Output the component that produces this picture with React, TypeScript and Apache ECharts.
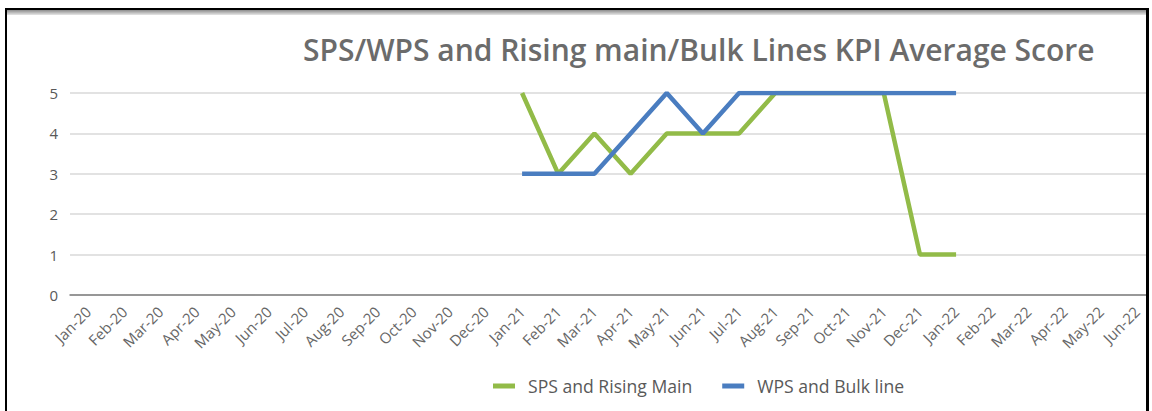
import React, { useEffect, useRef } from "react";
import * as echarts from "echarts";

const categories = [
  "Jan-20", "Feb-20", "Mar-20", "Apr-20", "May-20", "Jun-20", "Jul-20", "Aug-20", "Sep-20", "Oct-20", "Nov-20", "Dec-20",
  "Jan-21", "Feb-21", "Mar-21", "Apr-21", "May-21", "Jun-21", "Jul-21", "Aug-21", "Sep-21", "Oct-21", "Nov-21", "Dec-21",
  "Jan-22", "Feb-22", "Mar-22", "Apr-22", "May-22", "Jun-22",
];

const spsRisingMain = [
  null, null, null, null, null, null, null, null, null, null, null, null,
  5, 3, 4, 3, 4, 4, 4, 5, 5, 5, 5, 1,
  1, null, null, null, null, null,
];

const wpsBulkLine = [
  null, null, null, null, null, null, null, null, null, null, null, null,
  3, 3, 3, 4, 5, 4, 5, 5, 5, 5, 5, 5,
  5, null, null, null, null, null,
];

const yTicks = [0, 1, 2, 3, 4, 5];

const TITLE = "SPS/WPS and Rising main/Bulk Lines KPI Average Score";
const FONT = "'Open Sans', 'Noto Sans', sans-serif";

export default function App() {
  const ref = useRef<HTMLDivElement>(null);

  useEffect(() => {
    if (!ref.current) return;
    const chart = echarts.init(ref.current, null, { renderer: "svg" });
    chart.setOption({
      animation: false,
      backgroundColor: "#ffffff",
      textStyle: { fontFamily: FONT },
      title: {
        text: TITLE,
        left: 298,
        top: 29,
        textStyle: {
          fontFamily: FONT,
          fontSize: 30,
          fontWeight: 600,
          color: "#6b6b6b",
        },
      },
      legend: {
        left: 488,
        top: 372,
        itemGap: 30,
        itemWidth: 22,
        itemHeight: 5,
        icon: "rect",
        textStyle: {
          fontFamily: FONT,
          fontSize: 17.6,
          color: "#595959",
          padding: [0, 0, 0, 8],
        },
        data: ["SPS and Rising Main", "WPS and Bulk line"],
      },
      grid: { left: 70, right: 15, top: 93, bottom: 116 },
      xAxis: {
        type: "category",
        data: categories,
        boundaryGap: true,
        axisLine: { lineStyle: { color: "#7f7f7f", width: 1.5 } },
        axisTick: { show: false },
        axisLabel: {
          rotate: 45,
          interval: 0,
          margin: 14,
          fontFamily: FONT,
          fontSize: 15,
          color: "#666666",
        },
      },
      yAxis: {
        type: "value",
        min: 0,
        max: 5,
        interval: 1,
        axisLine: { show: false },
        axisTick: { show: false },
        splitLine: { lineStyle: { color: "#d9d9d9", width: 1.5 } },
        axisLabel: {
          margin: 12,
          fontFamily: FONT,
          fontSize: 15,
          color: "#595959",
          formatter: (v: number) => (yTicks.includes(v) ? String(v) : ""),
        },
      },
      series: [
        {
          name: "SPS and Rising Main",
          type: "line",
          data: spsRisingMain,
          showSymbol: false,
          symbol: "none",
          connectNulls: false,
          lineStyle: { color: "#92bb48", width: 4.5 },
          itemStyle: { color: "#92bb48" },
        },
        {
          name: "WPS and Bulk line",
          type: "line",
          data: wpsBulkLine,
          showSymbol: false,
          symbol: "none",
          connectNulls: false,
          lineStyle: { color: "#4a7dc0", width: 4.5 },
          itemStyle: { color: "#4a7dc0" },
        },
      ],
    });
    return () => chart.dispose();
  }, []);

  return (
    <div
      style={{
        position: "fixed",
        left: 0,
        top: 0,
        width: 1152,
        height: 411,
        background: "#ffffff",
        overflow: "hidden",
      }}
    >
      <div
        style={{
          position: "absolute",
          left: 0,
          top: 0,
          width: 1147,
          height: 411,
          overflow: "hidden",
        }}
      >
        <div ref={ref} style={{ position: "absolute", left: 0, top: 0, width: 1170, height: 411 }} />
      </div>
      <div style={{ position: "absolute", left: 5, top: 8, width: 1144, height: 2, background: "#000" }} />
      <div
        style={{
          position: "absolute",
          left: 7,
          top: 10,
          width: 1140,
          height: 5,
          background: "linear-gradient(#8c8c8c, #e6e6e6)",
        }}
      />
      <div style={{ position: "absolute", left: 5, top: 8, width: 2, height: 403, background: "#000" }} />
      <div style={{ position: "absolute", left: 1146, top: 8, width: 3, height: 403, background: "#000" }} />
    </div>
  );
}
